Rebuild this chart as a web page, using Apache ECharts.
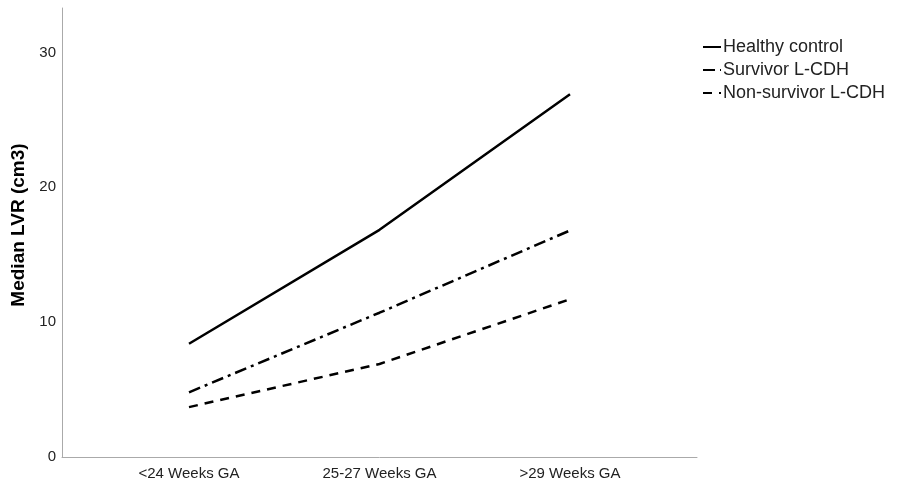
<!DOCTYPE html>
<html>
<head>
<meta charset="utf-8">
<style>
  html, body { margin: 0; padding: 0; background: #fff; }
  #chart { width: 902px; height: 481px; }
</style>
<script src="https://cdn.jsdelivr.net/npm/echarts@6/dist/echarts.min.js"></script>
</head>
<body>
<div id="chart"></div>
<script>
var categories = ["<24 Weeks GA", "25-27 Weeks GA", ">29 Weeks GA"];
var seriesNames = ["Healthy control", "Survivor L-CDH", "Non-survivor L-CDH"];
var healthy = [8.4, 16.85, 26.9];
var survivor = [4.8, 10.7, 16.8];
var nonSurvivor = [3.7, 6.9, 11.7];
var yTicks = [0, 10, 20, 30];

function toPoints(values) {
  var pts = [];
  for (var i = 0; i < values.length; i++) {
    pts.push([i, values[i]]);
  }
  return pts;
}

var myChart = echarts.init(document.getElementById("chart"));
var font = "Liberation Sans, Arial, sans-serif";

var option = {
  animation: false,
  grid: { left: 62, right: 205, top: 8, bottom: 24, containLabel: false },
  legend: {
    left: 697,
    top: 33,
    orient: "vertical",
    itemWidth: 18,
    itemHeight: 14,
    itemGap: 5,
    data: seriesNames,
    itemStyle: { opacity: 0 },
    textStyle: { fontFamily: font, fontSize: 18, color: "#222", lineHeight: 18, padding: [0, 0, 0, -3] }
  },
  xAxis: {
    type: "value",
    min: -2 / 3,
    max: 8 / 3,
    splitLine: { show: false },
    axisTick: { show: false },
    axisLine: { show: true, onZero: false, lineStyle: { color: "#aaa", width: 1 } },
    axisLabel: {
      customValues: [0, 1, 2],
      formatter: function (v) { return categories[Math.round(v)]; },
      fontFamily: font,
      fontSize: 15,
      color: "#222",
      margin: 9
    }
  },
  yAxis: {
    type: "value",
    min: 0,
    max: 33.3,
    interval: 10,
    name: "Median LVR (cm3)",
    nameLocation: "middle",
    nameGap: 34,
    nameTextStyle: { fontFamily: font, fontSize: 19, fontWeight: "bold", color: "#000", padding: [0, 0, 0, 15] },
    splitLine: { show: false },
    axisTick: { show: false },
    axisLine: { show: true, onZero: false, lineStyle: { color: "#aaa", width: 1 } },
    axisLabel: {
      customValues: yTicks,
      fontFamily: font,
      fontSize: 15,
      color: "#222",
      margin: 6
    }
  },
  series: [
    {
      name: seriesNames[0],
      type: "line",
      data: toPoints(healthy),
      symbol: "none",
      lineStyle: { color: "#000", width: 2.5, type: "solid" },
      itemStyle: { color: "#000" }
    },
    {
      name: seriesNames[1],
      type: "line",
      data: toPoints(survivor),
      symbol: "none",
      lineStyle: { color: "#000", width: 2.5, type: [12, 5, 3, 5] },
      itemStyle: { color: "#000" }
    },
    {
      name: seriesNames[2],
      type: "line",
      data: toPoints(nonSurvivor),
      symbol: "none",
      lineStyle: { color: "#000", width: 2.5, type: [9, 7] },
      itemStyle: { color: "#000" }
    }
  ]
};
myChart.setOption(option);
</script>
</body>
</html>
